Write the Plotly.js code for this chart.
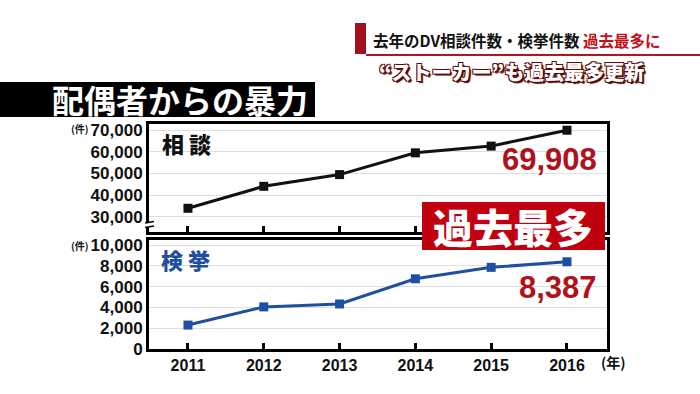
<!DOCTYPE html>
<html>
<head>
<meta charset="utf-8">
<script src="https://cdn.plot.ly/plotly-3.0.1.min.js"></script>
<style>html,body{margin:0;padding:0;background:#fff;}#chart{width:700px;height:394px;}</style>
</head>
<body>
<div id="chart"></div>
<script>
// ---- data ----
const years = [2011, 2012, 2013, 2014, 2015, 2016];
const consultations = [34000, 44100, 49500, 59500, 62600, 69908];
const arrests = [2300, 4050, 4330, 6750, 7850, 8387];
const upperTicks = [30000, 40000, 50000, 60000, 70000];
const lowerTicks = [0, 2000, 4000, 6000, 8000, 10000];
const consultLabel = "相 談";
const arrestLabel = "検 挙";
const consultLast = "69,908";
const arrestLast = "8,387";

// ---- geometry helpers (pixel -> paper) ----
const L = 149, R = 607, T = 124, B = 349;
const px = x => (x - L) / (R - L);
const py = y => (B - y) / (B - T);

const CJK = "Noto Sans CJK JP, sans-serif";
const LAT = "Liberation Sans, Arial, sans-serif";

const traces = [
  {x: years, y: consultations, xaxis: 'x2', yaxis: 'y', mode: 'lines+markers',
   line: {color: '#111', width: 3}, marker: {symbol: 'square', size: 9, color: '#111'},
   hoverinfo: 'skip', showlegend: false},
  {x: years, y: arrests, xaxis: 'x', yaxis: 'y2', mode: 'lines+markers',
   line: {color: '#1f4fa3', width: 3}, marker: {symbol: 'square', size: 9, color: '#1f4fa3'},
   hoverinfo: 'skip', showlegend: false}
];

const axLine = {showline: true, linecolor: '#000', linewidth: 3, mirror: true, zeroline: false};
const xRange = [2010.486, 2016.528];

const layout = {
  width: 700, height: 394,
  margin: {l: L, r: 700 - R, t: T, b: 394 - B, pad: 0},
  paper_bgcolor: '#fff', plot_bgcolor: '#fff',
  showlegend: false,
  xaxis: Object.assign({}, axLine, {
    domain: [0, 1], anchor: 'y2', range: xRange, tickvals: years,
    ticks: 'inside', ticklen: 6, tickwidth: 3, tickcolor: '#000', showgrid: false,
    tickfont: {family: LAT, size: 16, color: '#111', weight: 700}
  }),
  xaxis2: Object.assign({}, axLine, {
    domain: [0, 1], anchor: 'y', matches: 'x', range: xRange, tickvals: years,
    ticks: 'inside', ticklen: 6, tickwidth: 3, tickcolor: '#000', showgrid: false,
    showticklabels: false
  }),
  yaxis: Object.assign({}, axLine, {
    domain: [0.52, 1], anchor: 'x2', range: [23100, 72760], tickvals: upperTicks,
    tickformat: ',d', ticks: '', showgrid: true, gridcolor: '#dedede', gridwidth: 1,
    tickfont: {family: LAT, size: 17, color: '#111', weight: 700}
  }),
  yaxis2: Object.assign({}, axLine, {
    domain: [0, 0.4844], anchor: 'x', range: [0, 10480], tickvals: lowerTicks,
    tickformat: ',d', ticks: '', showgrid: true, gridcolor: '#dedede', gridwidth: 1,
    tickfont: {family: LAT, size: 17, color: '#111', weight: 700}
  }),
  shapes: [
    // banner
    {type: 'rect', xref: 'paper', yref: 'paper', x0: px(0), x1: px(315), y0: py(117), y1: py(82),
     fillcolor: '#000', line: {width: 0}},
    // title bar + underline
    {type: 'rect', xref: 'paper', yref: 'paper', x0: px(355), x1: px(366), y0: py(54), y1: py(23),
     fillcolor: '#a3121c', line: {width: 0}},
    {type: 'line', xref: 'paper', yref: 'paper', x0: px(366), x1: px(700), y0: py(55), y1: py(55),
     line: {color: '#b3141d', width: 2}},
    // record box
    {type: 'rect', xref: 'paper', yref: 'paper', x0: px(422), x1: px(605), y0: py(250), y1: py(202),
     fillcolor: '#c0000f', line: {width: 0}, layer: 'above'},
    // axis break
    {type: 'rect', xref: 'paper', yref: 'paper', x0: px(144), x1: px(155), y0: py(227.5), y1: py(222),
     fillcolor: '#fff', line: {width: 0}, layer: 'above'},
    {type: 'line', xref: 'paper', yref: 'paper', x0: px(145), x1: px(154), y0: py(223), y1: py(221.5),
     line: {color: '#000', width: 1.5}, layer: 'above'},
    {type: 'line', xref: 'paper', yref: 'paper', x0: px(145), x1: px(154), y0: py(227.5), y1: py(226),
     line: {color: '#000', width: 1.5}, layer: 'above'}
  ],
  annotations: [
    {xref: 'paper', yref: 'paper', x: px(310), y: py(99), xanchor: 'right', yanchor: 'middle',
     text: '配偶者からの暴力', showarrow: false,
     font: {family: CJK, size: 32, color: '#fff', weight: 700}},
    {xref: 'paper', yref: 'paper', x: px(371), y: py(40), xanchor: 'left', yanchor: 'middle',
     text: '去年のDV相談件数・検挙件数 <span style="color:#c3101b">過去最多に</span>', showarrow: false,
     font: {family: CJK, size: 15.5, color: '#111', weight: 700}},
    {xref: 'paper', yref: 'paper', x: px(511), y: py(71), xanchor: 'center', yanchor: 'middle',
     text: '“ストーカー”も過去最多更新', showarrow: false,
     font: {family: CJK, size: 20, color: '#fff', weight: 900,
            shadow: '-1px -1px 0 #5c0a0a, 1px -1px 0 #5c0a0a, -1px 1px 0 #5c0a0a, 1px 1px 0 #5c0a0a, 2px 2px 1px #3a0000'}},
    {xref: 'paper', yref: 'paper', x: px(186), y: py(143), xanchor: 'center', yanchor: 'middle',
     text: consultLabel, showarrow: false,
     font: {family: CJK, size: 22, color: '#111', weight: 900}},
    {xref: 'paper', yref: 'paper', x: px(185), y: py(259), xanchor: 'center', yanchor: 'middle',
     text: arrestLabel, showarrow: false,
     font: {family: CJK, size: 22, color: '#1f4fa3', weight: 900}},
    {xref: 'paper', yref: 'paper', x: px(599), y: py(159), xanchor: 'right', yanchor: 'middle',
     text: consultLast, showarrow: false,
     font: {family: LAT, size: 31, color: '#b0121c', weight: 700}},
    {xref: 'paper', yref: 'paper', x: px(599), y: py(287), xanchor: 'right', yanchor: 'middle',
     text: arrestLast, showarrow: false,
     font: {family: LAT, size: 31, color: '#b0121c', weight: 700}},
    {xref: 'paper', yref: 'paper', x: px(513), y: py(226), xanchor: 'center', yanchor: 'middle',
     text: '過去最多', showarrow: false,
     font: {family: CJK, size: 40, color: '#fff', weight: 900}},
    {xref: 'paper', yref: 'paper', x: px(80), y: py(128), xanchor: 'center', yanchor: 'middle',
     text: '(件)', showarrow: false, font: {family: CJK, size: 10, color: '#111', weight: 700}},
    {xref: 'paper', yref: 'paper', x: px(80), y: py(245), xanchor: 'center', yanchor: 'middle',
     text: '(件)', showarrow: false, font: {family: CJK, size: 10, color: '#111', weight: 700}},
    {xref: 'paper', yref: 'paper', x: px(613), y: py(362), xanchor: 'center', yanchor: 'middle',
     text: '(年)', showarrow: false, font: {family: CJK, size: 14, color: '#111', weight: 700}}
  ]
};

Plotly.newPlot('chart', traces, layout, {staticPlot: true, displayModeBar: false});
</script>
</body>
</html>
